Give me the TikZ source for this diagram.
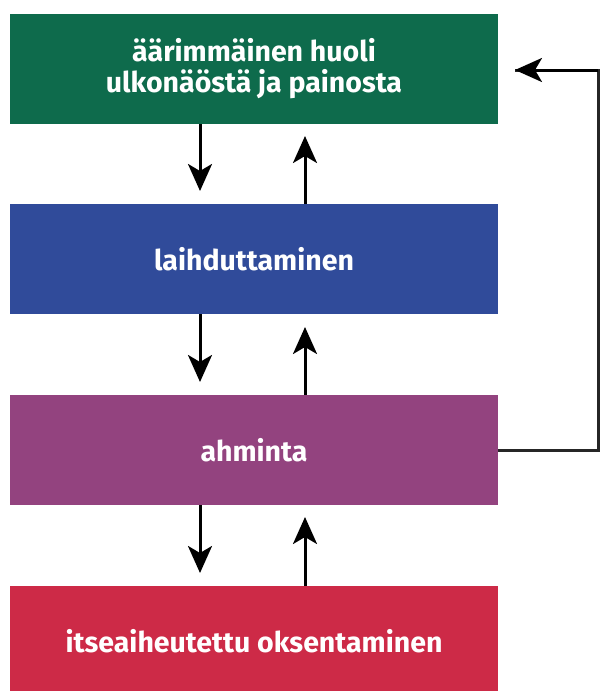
\documentclass[tikz,border=0pt]{standalone}
\usepackage{fontspec}
\setmainfont{Fira Sans}
\usetikzlibrary{arrows.meta}
\definecolor{cgreen}{HTML}{0E6B4C}
\definecolor{cblue}{HTML}{304B9A}
\definecolor{cpurple}{HTML}{93437F}
\definecolor{cred}{HTML}{CD2A47}
\begin{document}
\begin{tikzpicture}[x=1pt,y=-1pt,
  boxstyle/.style={rectangle, minimum width=488pt, minimum height=110pt, inner sep=0pt,
    text=white, font=\fontsize{28.5}{31}\selectfont\bfseries, align=center},
  arr/.style={line width=3pt, -{Stealth[length=27pt,width=24pt,inset=7pt]}},
  fb/.style={line width=3pt, draw=black!85}]
\useasboundingbox (0,0) rectangle (600,691);
\node[boxstyle, fill=cgreen] (b1) at (254,69) {äärimmäinen huoli\\ulkonäöstä ja painosta};
\node[boxstyle, fill=cblue] (b2) at (254,259) {laihduttaminen};
\node[boxstyle, fill=cpurple] (b3) at (254,450) {ahminta};
\node[boxstyle, fill=cred] (b4) at (254,641) {itseaiheutettu oksentaminen};
\coordinate (d1) at (200,191);
\coordinate (u1) at (305,136);
\coordinate (d2) at (200,382);
\coordinate (u2) at (305,327);
\coordinate (d3) at (200,573);
\coordinate (u3) at (305,517);
\draw[arr] (b1.south -| d1) -- (d1);
\draw[arr] (b2.north -| u1) -- (u1);
\draw[arr] (b2.south -| d2) -- (d2);
\draw[arr] (b3.north -| u2) -- (u2);
\draw[arr] (b3.south -| d3) -- (d3);
\draw[arr] (b4.north -| u3) -- (u3);
\coordinate (c1) at (598,450);
\coordinate (c2) at (598,70);
\coordinate (t1) at (515,70);
\draw[fb] (b3.east) -- (c1) -- (c2) -- (t1);
\draw[arr] (c2) -- (t1);
\end{tikzpicture}
\end{document}
